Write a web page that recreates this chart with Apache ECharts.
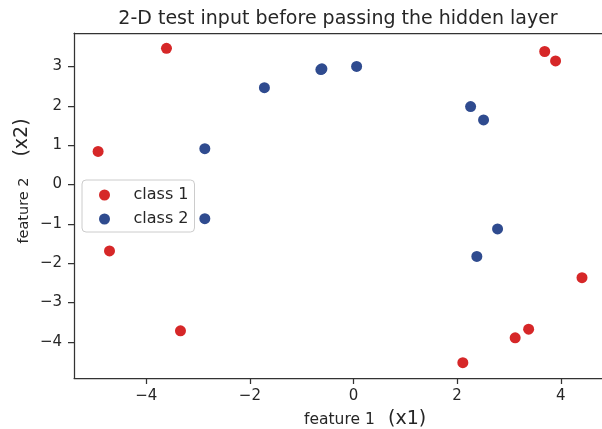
<!DOCTYPE html>
<html>
<head>
<meta charset="utf-8">
<script src="https://cdn.jsdelivr.net/npm/echarts@6/dist/echarts.min.js"></script>
<style>
html,body{margin:0;padding:0;background:#fff;}
#chart{width:602px;height:429px;}
</style>
</head>
<body>
<div id="chart"></div>
<script>
const titleText = '2-D test input before passing the hidden layer';
const seriesNames = ['class 1', 'class 2'];
const class1X = [-3.61, -4.93, -4.71, -3.34, 2.11, 3.12, 3.38, 4.41, 3.90, 3.69];
const class1Y = [3.46, 0.84, -1.69, -3.72, -4.53, -3.90, -3.68, -2.37, 3.14, 3.38];
const class2X = [-2.87, -2.87, -1.72, -0.63, -0.61, 0.06, 2.26, 2.51, 2.78, 2.38];
const class2Y = [0.91, -0.87, 2.46, 2.92, 2.94, 3.00, 1.98, 1.64, -1.13, -1.83];
const xTicks = [-4, -2, 0, 2, 4];
const yTicks = [-4, -3, -2, -1, 0, 1, 2, 3];

const FONT = 'DejaVu Sans';
const TXT = '#262626';
const AX = '#333333';
const RED = '#d62728';
const BLUE = '#2f4b8f';

function pairs(xs, ys) { return xs.map((x, i) => [x, ys[i]]); }
function fmt(v) { return String(v).replace('-', '\u2212'); }

const chart = echarts.init(document.getElementById('chart'), null, {renderer: 'canvas'});
chart.setOption({
  animation: false,
  backgroundColor: '#ffffff',
  title: {
    text: titleText,
    left: 333, top: 5, textAlign: 'center',
    textStyle: {fontFamily: FONT, fontSize: 19, fontWeight: 'normal', color: TXT}
  },
  grid: {
    left: 74, top: 33, right: 0, bottom: 51,
    show: false
  },
  legend: {
    orient: 'vertical', left: 82, top: 180,
    padding: [7, 6, 5, 17], itemGap: 8,
    itemWidth: 16, itemHeight: 11,
    borderColor: '#cccccc', borderWidth: 1, borderRadius: 4,
    backgroundColor: '#ffffff',
    data: seriesNames.map(n => ({name: n, icon: 'circle'})),
    textStyle: {fontFamily: FONT, fontSize: 16, color: TXT, padding: [0, 0, 0, 16], lineHeight: 16}
  },
  xAxis: [{
    type: 'value', min: -5.395, max: 4.796, position: 'bottom',
    axisLine: {show: true, onZero: false, lineStyle: {color: AX, width: 1.25}},
    axisTick: {show: true, customValues: xTicks, length: 6, lineStyle: {color: AX, width: 1.25}},
    axisLabel: {customValues: xTicks, margin: 11, formatter: fmt,
      fontFamily: FONT, fontSize: 15, color: TXT},
    splitLine: {show: false}
  }, {
    type: 'value', min: -5.395, max: 4.796, position: 'top',
    axisLine: {show: true, onZero: false, lineStyle: {color: AX, width: 1.25}},
    axisTick: {show: false}, axisLabel: {show: false}, splitLine: {show: false}
  }],
  yAxis: {
    type: 'value', min: -4.92, max: 3.85,
    axisLine: {show: true, onZero: false, lineStyle: {color: AX, width: 1.25}},
    axisTick: {show: true, customValues: yTicks, length: 6, lineStyle: {color: AX, width: 1.25}},
    axisLabel: {customValues: yTicks, margin: 12, formatter: fmt,
      fontFamily: FONT, fontSize: 15, color: TXT},
    splitLine: {show: false}
  },
  graphic: [
    {type: 'text', x: 304, y: 419.5,
      style: {text: 'feature 1', fontFamily: FONT, fontSize: 15.5, fill: TXT, align: 'left', verticalAlign: 'middle'}},
    {type: 'text', x: 388, y: 419,
      style: {text: '(x1)', fontFamily: FONT, fontSize: 19, fill: TXT, align: 'left', verticalAlign: 'middle'}},
    {type: 'text', x: 24.5, y: 210.5, rotation: Math.PI / 2,
      style: {text: 'feature 2', fontFamily: FONT, fontSize: 14.5, fill: TXT, align: 'center', verticalAlign: 'middle'}},
    {type: 'text', x: 22.5, y: 137.5, rotation: Math.PI / 2,
      style: {text: '(x2)', fontFamily: FONT, fontSize: 19, fill: TXT, align: 'center', verticalAlign: 'middle'}}
  ],
  series: [
    {name: seriesNames[0], type: 'scatter', symbol: 'circle', symbolSize: 11, xAxisIndex: 0,
      itemStyle: {color: RED, opacity: 1}, data: pairs(class1X, class1Y)},
    {name: seriesNames[1], type: 'scatter', symbol: 'circle', symbolSize: 11, xAxisIndex: 0,
      itemStyle: {color: BLUE, opacity: 1}, data: pairs(class2X, class2Y)}
  ]
});
</script>
</body>
</html>
